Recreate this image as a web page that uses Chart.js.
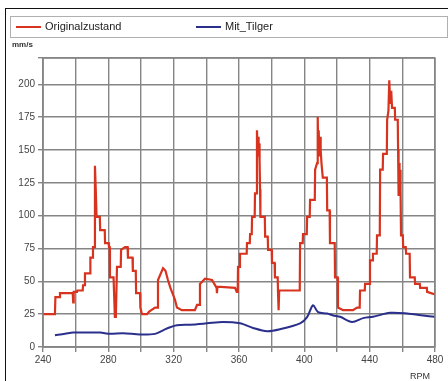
<!DOCTYPE html>
<html>
<head>
<meta charset="utf-8">
<script src="https://cdn.jsdelivr.net/npm/chart.js@4"></script>
<style>
  html, body { margin:0; padding:0; background:#fff; width:448px; height:381px; overflow:hidden; }
  #wrap { position:relative; width:448px; height:381px; }
  canvas { position:absolute; left:0; top:0; }
  #frame { position:absolute; left:5px; top:8px; width:460px; height:400px; border-left:1.5px solid #111; border-top:1.5px solid #111; }
  #legend { position:absolute; left:10px; top:16px; width:436px; height:20px; border:1px solid #b0b0b0; background:#fff;
            font-family:"Liberation Sans", Arial, sans-serif; font-size:11px; color:#222; }
  .item { position:absolute; top:3px; white-space:nowrap; }
  .swatch { display:inline-block; width:25px; height:0; border-top:2px solid; vertical-align:middle; margin-right:4px; }
  .lbl { position:absolute; font-family:"Liberation Sans", Arial, sans-serif; color:#333; }
</style>
</head>
<body>
<div id="wrap">
  <canvas id="c" width="448" height="381"></canvas>
  <div id="frame"></div>
  <div id="legend">
    <div class="item" style="left:5px"><span class="swatch" style="border-color:#d8331f"></span>Originalzustand</div>
    <div class="item" style="left:185px"><span class="swatch" style="border-color:#2b2f8c"></span>Mit_Tilger</div>
  </div>
  <div class="lbl" style="left:12px; top:40px; font-size:8px; font-weight:bold;">mm/s</div>
  <div class="lbl" style="left:410px; top:371px; font-size:9px;">RPM</div>
</div>
<script>
// Originalzustand (red) – RPM and mm/s
const redRpm = [240,247.3,247.6,250,250.4,258.2,258.5,258.8,260.8,261,264.3,264.5,265.5,265.7,268.8,269,270.4,270.6,271.6,271.8,272.3,272.8,274.8,275,277.8,278,280.2,280.4,280.8,281,283.2,284,284.6,285.3,287.6,287.8,290.2,291.8,292,294.8,295,296.8,297,299.4,299.6,300.6,303.7,305,308.6,310.2,310.4,313.5,315,316.5,318,320.8,322,325,333,334.3,336,336.1,339.2,343.5,346.3,346.5,346.8,357.6,358.6,359.2,359.4,360.4,360.6,364.7,364.9,366.6,366.8,367.8,368,369.6,369.8,370.8,371,371.4,371.7,372,372.3,372.6,372.9,373.1,375.8,376,377.6,377.8,380,380.2,381.8,382,383.7,383.9,384.1,384.4,384.6,396,397.2,397.4,399,399.2,401.5,401.7,403.3,403.5,406.4,406.6,407.8,408.2,408.5,408.8,409.2,409.6,410,410.5,411.3,413.8,414,415.5,415.7,418.6,418.8,420.4,420.6,423.7,429.8,432.3,433.9,434.1,437,437.2,440,440.2,441.8,442,444.3,444.5,446.2,446.4,448,448.2,450.5,450.7,451.5,452,452.6,453.2,453.7,455.4,455.6,457.2,457.4,457.7,458,458.3,458.6,458.9,459.2,460.3,460.5,462.1,462.3,464.5,464.7,467.6,467.8,470.7,470.9,475,475.2,480];
const redVal = [25,25,38,38,41,41,34,42,42,43,43,47,47,56,56,68,68,76,76,138,120,99,99,89,89,79,79,76,76,53,53,23,23,61,61,74,76,76,68,68,58,58,41,41,30,25,25,27,30,30,51,60,58,51,45,36,30,28,28,32,32,48,52,51,45,41,46,45,42,42,61,61,71,71,79,79,86,86,99,99,117,117,165,150,160,145,155,142,120,99,99,84,84,74,74,64,64,53,53,41,28,28,43,43,43,79,79,86,86,99,99,112,112,135,140,175,150,165,145,160,150,140,129,129,104,104,79,79,53,53,30,28,28,30,30,43,43,48,48,66,66,71,71,85,85,135,135,147,147,173,180,203,185,195,182,182,173,173,150,115,140,120,135,120,85,85,76,76,71,71,53,53,48,48,45,45,42,40];
// Mit_Tilger (blue)
const blueRpm = [247.3,253.5,258.4,265.7,275,281,289,299.4,308.6,313.5,317.8,322,330,340.4,350.2,360.6,368.6,377.2,385.1,397.4,401.7,405.3,408.4,414,417.6,421.9,429.2,436,442,452.5,462.9,472.7,480];
const blueVal = [9,10,11,11,11,10,10.5,9.5,10,12.7,15,16.5,17,18,19,18,14.5,12,13.5,18,22.7,31.8,26.5,25.5,24,23,19,22,23,26,25.5,24,23];
const yTicks = [0,25,50,75,100,125,150,175,200];
const xTickLabels = [240,280,320,360,400,440,480];

const toPts = (xs, ys) => xs.map((x, i) => ({ x: x, y: ys[i] }));

new Chart(document.getElementById('c'), {
  type: 'line',
  data: {
    datasets: [
      { label: 'Originalzustand', data: toPts(redRpm, redVal), borderColor: '#d8331f', borderWidth: 2.2, pointRadius: 0, tension: 0 },
      { label: 'Mit_Tilger', data: toPts(blueRpm, blueVal), borderColor: '#2b2f8c', borderWidth: 2, pointRadius: 0, tension: 0.3 }
    ]
  },
  options: {
    responsive: false,
    animation: false,
    layout: { padding: { left: 0, right: 13, top: 58, bottom: 10 } },
    plugins: { legend: { display: false }, tooltip: { enabled: false } },
    scales: {
      x: {
        type: 'linear', min: 240, max: 480,
        afterFit: s => { s.height = 24; },
        ticks: { stepSize: 20, autoSkip: false, maxRotation: 0, padding: 2, color: '#444',
                 font: { family: 'Liberation Sans', size: 10 },
                 callback: v => xTickLabels.includes(v) ? String(v) : '' },
        grid: { color: '#858585', lineWidth: 1.4, tickLength: 5 },
        border: { color: '#858585', width: 1.4 }
      },
      y: {
        min: 0, max: 220,
        afterFit: s => { s.width = 43; },
        ticks: { stepSize: 25, autoSkip: false, padding: 3, color: '#444',
                 font: { family: 'Liberation Sans', size: 10 },
                 callback: v => yTicks.includes(v) ? String(v) : '' },
        grid: { color: '#858585', lineWidth: 1.4, tickLength: 5 },
        border: { color: '#858585', width: 1.4 }
      }
    }
  },
  plugins: [{
    id: 'topRight',
    afterDraw(chart) {
      const { ctx, chartArea: a } = chart;
      ctx.save();
      ctx.strokeStyle = '#858585'; ctx.lineWidth = 1.4;
      ctx.strokeRect(a.left, a.top, a.right - a.left, a.bottom - a.top);
      ctx.restore();
    }
  }]
});
</script>
</body>
</html>
